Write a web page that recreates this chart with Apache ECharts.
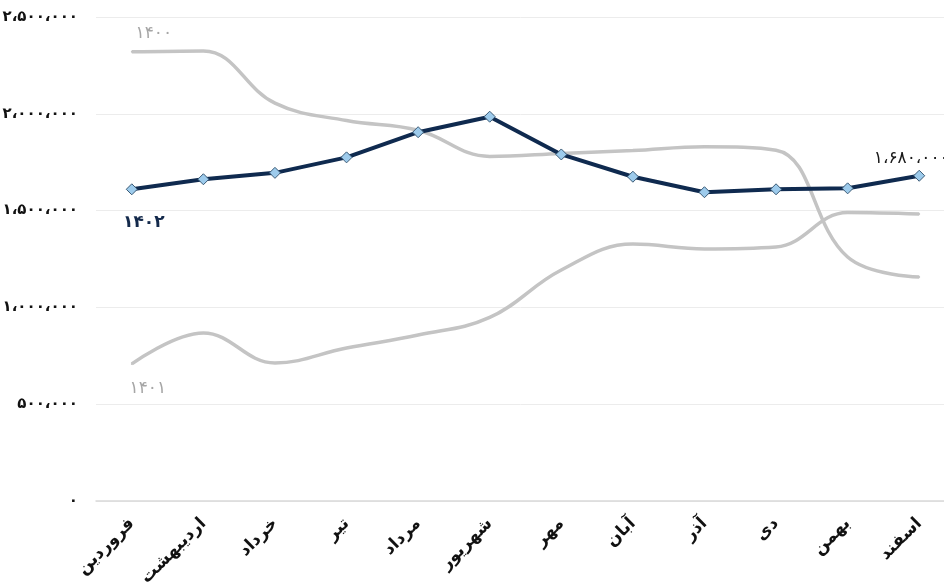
<!DOCTYPE html>
<html>
<head>
<meta charset="utf-8">
<script src="https://cdn.jsdelivr.net/npm/echarts@6/dist/echarts.min.js"></script>
<style>
  html, body { margin: 0; padding: 0; background: #ffffff; overflow: hidden; }
  #chart { width: 944px; height: 587px; }
</style>
</head>
<body>
<div id="chart"></div>
<script>
// Months of the Persian calendar
const months = ['فروردین', 'اردیبهشت', 'خرداد', 'تیر', 'مرداد', 'شهریور', 'مهر', 'آبان', 'آذر', 'دی', 'بهمن', 'اسفند'];

// Monthly values for each year
const year1400 = [2320000, 2325000, 2055000, 1965000, 1915000, 1780000, 1795000, 1810000, 1830000, 1812000, 1260000, 1157000];
const year1401 = [708000, 868000, 713000, 790000, 857000, 948000, 1193000, 1327000, 1302000, 1312000, 1490000, 1482000];
const year1402 = [1610000, 1662000, 1695000, 1775000, 1905000, 1985000, 1790000, 1675000, 1595000, 1610000, 1615000, 1680000];

const yearNames = ['۱۴۰۰', '۱۴۰۱', '۱۴۰۲'];
const yTicks = [0, 500000, 1000000, 1500000, 2000000, 2500000];

const FONT = 'DejaVu Sans';
const faDigits = '۰۱۲۳۴۵۶۷۸۹';
function toFa(n) {
  return String(n)
    .replace(/\B(?=(\d{3})+(?!\d))/g, '،')
    .replace(/\d/g, d => faDigits[+d]);
}

// Attach a name label to the first point of a series
function withFirstLabel(values, name, label) {
  return values.map((v, i) => i === 0 ? {
    value: v,
    label: Object.assign({ show: true, formatter: name, fontFamily: FONT }, label)
  } : v);
}

const data1402 = withFirstLabel(year1402, yearNames[2], {
  position: 'bottom', offset: [12, 14], color: '#13294b', fontSize: 17, fontWeight: 'bold'
});
const last = data1402.length - 1;
data1402[last] = {
  value: year1402[last],
  label: {
    show: true, formatter: p => toFa(p.value), position: 'top', offset: [-8, 2],
    color: '#1a1a1a', fontFamily: FONT, fontSize: 17
  }
};

const grayLine = { color: '#c4c4c4', width: 3.5 };
const grayPoint = { color: '#c4c4c4', borderWidth: 0 };

const chart = echarts.init(document.getElementById('chart'), null, { renderer: 'canvas' });
chart.setOption({
  animation: false,
  backgroundColor: '#ffffff',
  grid: { left: 96, right: -11, top: 17, bottom: 86, containLabel: false, outerBoundsMode: 'none' },
  xAxis: {
    type: 'category',
    data: months,
    boundaryGap: true,
    axisLine: { lineStyle: { color: '#d9d9d9', width: 1.5 } },
    axisTick: { show: false },
    axisLabel: {
      rotate: 45, interval: 0, margin: 20,
      color: '#111111', fontFamily: FONT, fontSize: 17, fontWeight: 'bold'
    }
  },
  yAxis: {
    type: 'value',
    min: yTicks[0], max: yTicks[yTicks.length - 1], interval: yTicks[1] - yTicks[0],
    axisLine: { show: false },
    axisTick: { show: false },
    splitLine: { lineStyle: { color: '#ececec', width: 1 } },
    axisLabel: {
      margin: 18, color: '#111111', fontFamily: FONT, fontSize: 15, fontWeight: 'bold',
      formatter: v => toFa(v)
    }
  },
  series: [
    {
      name: yearNames[0], type: 'line', smooth: 0.4,
      data: withFirstLabel(year1400, yearNames[0], {
        position: 'top', offset: [22, -4], color: '#a6a6a6', fontSize: 17
      }),
      symbol: 'circle', symbolSize: 2, showAllSymbol: true,
      itemStyle: grayPoint,
      lineStyle: grayLine,
      z: 2
    },
    {
      name: yearNames[1], type: 'line', smooth: 0.4,
      data: withFirstLabel(year1401, yearNames[1], {
        position: 'bottom', offset: [16, 10], color: '#a6a6a6', fontSize: 17
      }),
      symbol: 'circle', symbolSize: 2, showAllSymbol: true,
      itemStyle: grayPoint,
      lineStyle: grayLine,
      z: 2
    },
    {
      name: yearNames[2], type: 'line', smooth: false,
      data: data1402,
      symbol: 'diamond', symbolSize: 11, showAllSymbol: true,
      lineStyle: { color: '#0f2a4f', width: 4 },
      itemStyle: { color: '#9dcbec', borderColor: '#3b5a75', borderWidth: 1 },
      z: 5
    }
  ]
});
</script>
</body>
</html>
